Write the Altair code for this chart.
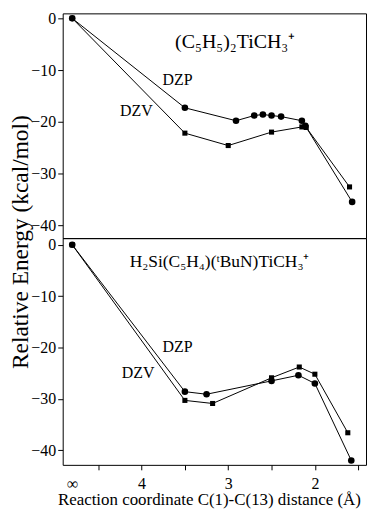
import altair as alt
import pandas as pd

FONT = "Liberation Serif"
INF_X = 4.80  # position used for the "infinity" separation

# ---- data ----
top_dzp_x = [INF_X, 3.50, 2.91, 2.70, 2.60, 2.50, 2.39, 2.15, 2.11, 1.57]
top_dzp_y = [0.0, -17.3, -19.8, -18.8, -18.6, -18.8, -19.0, -19.8, -20.8, -35.5]
top_dzv_x = [INF_X, 3.50, 3.00, 2.50, 2.15, 2.10, 1.60]
top_dzv_y = [0.0, -22.2, -24.6, -22.0, -21.0, -21.1, -32.6]

bot_dzp_x = [INF_X, 3.50, 3.25, 2.50, 2.19, 2.00, 1.58]
bot_dzp_y = [0.0, -28.6, -29.1, -26.5, -25.4, -27.0, -42.0]
bot_dzv_x = [INF_X, 3.50, 3.18, 2.50, 2.18, 2.00, 1.62]
bot_dzv_y = [0.0, -30.3, -30.9, -25.9, -23.8, -25.2, -36.6]

series_names = ["DZP", "DZV"]
top_title = "(C₅H₅)₂TiCH₃⁺"
bot_title = "H₂Si(C₅H₄)(ᵗBuN)TiCH₃⁺"

x_tick_values = [INF_X, 4.5, 4.0, 3.5, 3.0, 2.5, 2.0, 1.5]
y_tick_values = [0, -5, -10, -15, -20, -25, -30, -35, -40]

# annotation anchors (data units)
series_labels_top = pd.DataFrame({"x": [3.585, 4.06], "y": [-11.9, -18.0], "t": ["DZP", "DZV"]})
series_labels_bot = pd.DataFrame({"x": [3.585, 4.04], "y": [-19.9, -25.0], "t": ["DZP", "DZV"]})
formula_top = pd.DataFrame({"x": [2.92], "y": [-4.6], "t": [top_title]})
formula_bot = pd.DataFrame({"x": [3.10], "y": [-3.4], "t": [bot_title]})


def frame(xs_a, ys_a, xs_b, ys_b):
    rows = []
    for name, xs, ys in [("DZP", xs_a, ys_a), ("DZV", xs_b, ys_b)]:
        for i, (x, y) in enumerate(zip(xs, ys)):
            rows.append({"x": x, "y": y, "series": name, "i": i})
    return pd.DataFrame(rows)


top_df = frame(top_dzp_x, top_dzp_y, top_dzv_x, top_dzv_y)
bot_df = frame(bot_dzp_x, bot_dzp_y, bot_dzv_x, bot_dzv_y)

W = 305
x_scale = alt.Scale(domain=[1.41, 4.91], reverse=True, nice=False, zero=False)

x_axis = alt.Axis(
    values=x_tick_values,
    labelExpr="datum.value > 4.7 ? '∞' : (datum.value % 1 == 0 ? format(datum.value, 'd') : '')",
    tickOpacity={"condition": {"test": "datum.value > 4.7", "value": 0}, "value": 1},
    tickSize=5, tickColor="black", domain=False, grid=False,
    labelFont=FONT, labelFontSize=16, labelColor="black", labelPadding=6,
    title="Reaction coordinate C(1)-C(13) distance (Å)",
    titleFont=FONT, titleFontSize=17, titleFontWeight="normal", titleColor="black",
    titlePadding=0, titleX=147,
)


def y_axis():
    return alt.Axis(
        values=y_tick_values,
        labelExpr="datum.value % 10 == 0 ? format(datum.value, 'd') : ''",
        tickSize={"condition": {"test": "datum.value % 10 == 0", "value": 5}, "value": 3},
        tickColor="black", domain=False, grid=False,
        labelFont=FONT, labelFontSize=16, labelColor="black", labelPadding=2,
        title=None,
    )


shape_scale = alt.Scale(domain=series_names, range=["circle", "square"])
size_scale = alt.Scale(domain=series_names, range=[44, 26])
view_cfg = alt.ViewConfig(stroke="black", strokeWidth=1)


def panel(df, labels, formula, fsize, ydom, height, show_x, extra=None):
    enc_x = alt.X("x:Q", scale=x_scale, axis=x_axis if show_x else None)
    enc_y = alt.Y("y:Q", scale=alt.Scale(domain=ydom, nice=False, zero=False), axis=y_axis())
    base = alt.Chart(df)
    lines = base.mark_line(color="black", strokeWidth=1).encode(
        x=enc_x, y=enc_y, detail="series:N", order="i:Q")
    pts = base.mark_point(filled=True, color="black", opacity=1).encode(
        x=enc_x, y=enc_y,
        shape=alt.Shape("series:N", scale=shape_scale, legend=None),
        size=alt.Size("series:N", scale=size_scale, legend=None))
    txt = alt.Chart(labels).mark_text(font=FONT, fontSize=16, color="black").encode(
        x=alt.X("x:Q", scale=x_scale), y=alt.Y("y:Q"), text="t:N")
    ftxt = alt.Chart(formula).mark_text(font=FONT, fontSize=fsize, color="black").encode(
        x=alt.X("x:Q", scale=x_scale), y=alt.Y("y:Q"), text="t:N")
    layers = [lines, pts, txt, ftxt] + ([extra] if extra is not None else [])
    return alt.layer(*layers).properties(width=W, height=height, view=view_cfg)


ytitle = alt.Chart(pd.DataFrame({"t": ["Relative Energy (kcal/mol)"]})).mark_text(
    font=FONT, fontSize=23.5, color="black", angle=270).encode(
    x=alt.value(-42), y=alt.value(230), text="t:N")

top = panel(top_df, series_labels_top, formula_top, 20, [-42.5, 0.96], 226, False, ytitle)
bottom = panel(bot_df, series_labels_bot, formula_bot, 17.5, [-42.85, 1.3], 228, True)

chart = alt.vconcat(top, bottom, spacing=0, bounds="flush").resolve_scale(y="independent").properties(
    padding={"left": 0, "top": 0, "right": 0, "bottom": 0},
).configure_view(stroke="black", strokeWidth=1).configure(background="white")

chart.save("out.html", embed_options={"renderer": "svg", "actions": False})
